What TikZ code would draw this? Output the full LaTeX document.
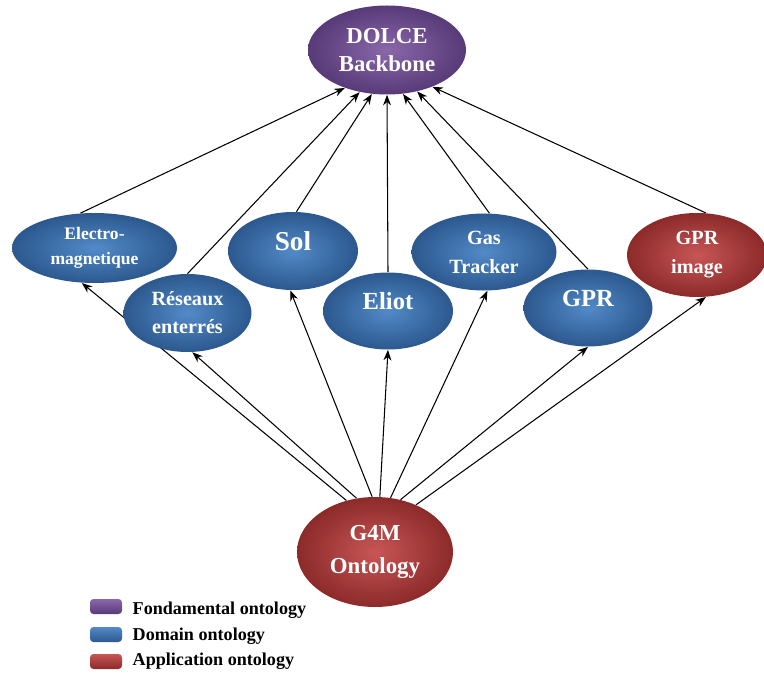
\documentclass[tikz,border=0pt]{standalone}
\usepackage{fontspec}
\setmainfont{Liberation Serif}
\usepackage{xcolor}
\usetikzlibrary{shapes,arrows,arrows.meta,positioning,backgrounds}
\definecolor{fondpurple}{RGB}{88,58,120}
\definecolor{fondlight}{RGB}{138,104,170}
\definecolor{domblue}{RGB}{44,88,142}
\definecolor{domlight}{RGB}{82,138,200}
\definecolor{appred}{RGB}{140,42,42}
\definecolor{applight}{RGB}{200,86,86}

\begin{document}
\begin{tikzpicture}[
    onto/.style={ellipse, inner sep=0pt, align=center, text=white, font=\bfseries},
    fondonto/.style={onto, shading=radial, inner color=fondlight, outer color=fondpurple},
    domonto/.style={onto, shading=radial, inner color=domlight, outer color=domblue},
    apponto/.style={onto, shading=radial, inner color=applight, outer color=appred},
    oneline/.style={text depth=11.4pt},
    legbox/.style={rounded corners=2pt, minimum width=0.64cm, minimum height=0.3cm, inner sep=0pt},
    legtext/.style={font=\bfseries\fontsize{10.3}{12}\selectfont, inner sep=0pt, anchor=west},
    arrow/.style={->, semithick, >={Stealth[length=6pt,width=4.5pt]}}
]
    \useasboundingbox (0,0) rectangle (15.28,13.56);

    % Fondamental ontology
    \node[fondonto, minimum width=3.16cm, minimum height=1.78cm, font=\bfseries\fontsize{13}{16}\selectfont] (dolce) at (7.74,12.56) {DOLCE\\Backbone};

    % Domain ontologies
    \node[domonto, minimum width=3.3cm, minimum height=1.4cm, font=\bfseries\fontsize{10}{14}\selectfont] (em) at (1.89,8.6) {Electro-\\magnetique};
    \node[domonto, minimum width=2.56cm, minimum height=1.56cm, font=\bfseries\fontsize{11.5}{16}\selectfont] (res) at (3.75,7.3) {Réseaux\\enterrés};
    \node[domonto, oneline, minimum width=2.6cm, minimum height=1.56cm, font=\bfseries\fontsize{15.5}{18}\selectfont] (sol) at (5.86,8.54) {Sol};
    \node[domonto, oneline, minimum width=2.6cm, minimum height=1.54cm, font=\bfseries\fontsize{14}{17}\selectfont] (eliot) at (7.76,7.34) {Eliot};
    \node[domonto, minimum width=2.9cm, minimum height=1.54cm, font=\bfseries\fontsize{11.5}{16.5}\selectfont] (gas) at (9.68,8.52) {Gas\\Tracker};
    \node[domonto, oneline, minimum width=2.58cm, minimum height=1.54cm, font=\bfseries\fontsize{14}{17}\selectfont] (gpr) at (11.76,7.4) {GPR};

    % Application ontologies
    \node[apponto, minimum width=2.8cm, minimum height=1.68cm, font=\bfseries\fontsize{11.5}{16.5}\selectfont] (gprimg) at (13.94,8.46) {GPR\\image};
    \node[apponto, minimum width=3.12cm, minimum height=2.2cm, font=\bfseries\fontsize{13}{19}\selectfont] (g4m) at (7.5,2.52) {G4M\\Ontology};

    % Arrows
    \begin{scope}[on background layer]
    \draw[arrow] (em.112) -- (dolce.222);
    \draw[arrow] (res.north) -- (dolce.237);
    \draw[arrow] (sol.85) -- (dolce.251);
    \draw[arrow] (eliot.north) -- (dolce.south);
    \draw[arrow] (gas.82) -- (dolce.290);
    \draw[arrow] (gpr.north) -- (dolce.306);
    \draw[arrow] (gprimg.78) -- (dolce.321);

    \draw[arrow] (g4m.119) -- (em.250);
    \draw[arrow] (g4m.109) -- (res.277);
    \draw[arrow] (g4m.93) -- (sol.266);
    \draw[arrow] (g4m.85) -- (eliot.south);
    \draw[arrow] (g4m.74) -- (gas.275);
    \draw[arrow] (g4m.64) -- (gpr.south);
    \draw[arrow] (g4m.49) -- (gprimg.282);
    \end{scope}

    % Legend
    \node[legbox, top color=fondlight, bottom color=fondpurple] (lfond) at (2.12,1.43) {};
    \node[legbox, top color=domlight, bottom color=domblue] (ldom) at (2.12,0.87) {};
    \node[legbox, top color=applight, bottom color=appred] (lapp) at (2.12,0.33) {};
    \node[legtext, right=0.2cm of lfond, yshift=-2pt] (tfond) {Fondamental ontology};
    \node[legtext, right=0.2cm of ldom, yshift=-1pt] (tdom) {Domain ontology};
    \node[legtext, right=0.2cm of lapp] (tapp) {Application ontology};
\end{tikzpicture}
\end{document}
